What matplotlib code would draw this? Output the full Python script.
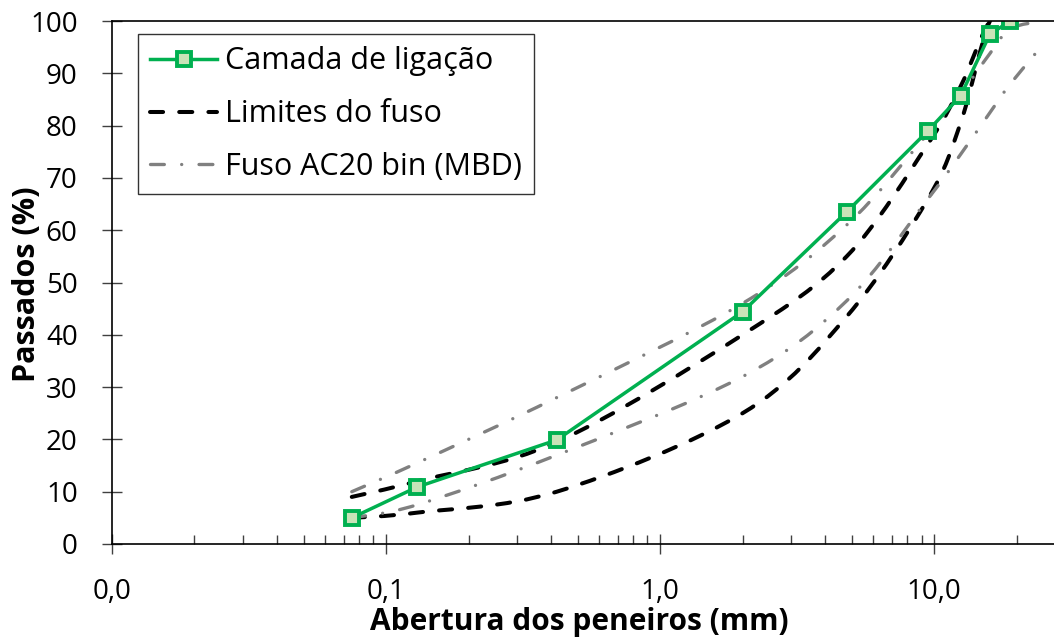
import numpy as np
import matplotlib
matplotlib.use("Agg")
import matplotlib.pyplot as plt
from matplotlib.path import Path
from matplotlib.patches import PathPatch
from matplotlib.lines import Line2D
from matplotlib.ticker import FixedLocator, FixedFormatter, LogLocator, NullFormatter

plt.rcParams['font.family'] = ['Open Sans', 'DejaVu Sans']

# aberturas das peneiras (mm)
peneiras = [0.075, 0.13, 0.42, 2.0, 4.8, 9.5, 12.5, 16.0, 19.0]
peneiras_mbd = [0.075, 0.13, 0.42, 2.0, 4.8, 9.5, 12.5, 16.0, 19.0, 25.0]

camada = [5.0, 10.9, 19.9, 44.4, 63.5, 79.0, 85.7, 97.5, 100.0]
lim_sup = [9.0, 12.0, 19.5, 40.0, 55.0, 76.5, 87.5, 100.0, 100.0]
lim_inf = [5.0, 6.0, 10.0, 25.0, 43.5, 66.0, 80.5, 100.0, 100.0]
mbd_sup = [10.0, 15.5, 28.0, 46.0, 61.0, 78.5, 86.0, 93.8, 98.5, 100.0]
mbd_inf = [5.0, 7.5, 17.0, 32.0, 46.5, 66.0, 74.5, 82.5, 88.0, 95.5]

xticks = [0.01, 0.1, 1.0, 10.0]
xlabels = ['0,0', '0,1', '1,0', '10,0']
yticks = list(range(0, 101, 10))


def curva_suave(xs, ys):
    # linha suavizada (estilo Excel): bezier cubica em (log x, y)
    u = np.log10(xs)
    p = np.column_stack([u, ys])
    verts = [p[0]]
    codes = [Path.MOVETO]
    n = len(p)
    for i in range(n - 1):
        a = p[i - 1] if i > 0 else p[i]
        d = p[i + 2] if i + 2 < n else p[i + 1]
        c1 = p[i] + (p[i + 1] - a) / 6
        c2 = p[i + 1] - (d - p[i]) / 6
        verts += [c1, c2, p[i + 1]]
        codes += [Path.CURVE4] * 3
    verts = np.array(verts)
    verts[:, 0] = 10 ** verts[:, 0]
    return Path(verts, codes)


fig = plt.figure(figsize=(10.54, 6.37), dpi=100)
ax = fig.add_axes([112 / 1054, 1 - 544 / 637, 942 / 1054, 523 / 637])
ax.set_xscale('log')

verde = '#00B050'
ax.plot(peneiras, camada, color=verde, lw=2.5, marker='s', markersize=10.5,
        markerfacecolor='#C9E3B8', markeredgecolor=verde, markeredgewidth=2.8,
        label='Camada de ligação')

tr_fuso = (3.25, 4.0)
tr_mbd = (4.15, 5.2, 0.01, 5.2)
kw_fuso = dict(color='black', lw=2.9, dash_capstyle='round', dashes=tr_fuso)
kw_mbd = dict(color='#808080', lw=2.4, dash_capstyle='round', dashes=tr_mbd)

for ys in [lim_sup, lim_inf]:
    pp = PathPatch(curva_suave(peneiras, ys), fill=False, edgecolor='black', lw=2.9,
                   linestyle=(0, tr_fuso), capstyle='round')
    ax.add_patch(pp)
for ys in [mbd_sup, mbd_inf]:
    pp = PathPatch(curva_suave(peneiras_mbd, ys), fill=False, edgecolor='#808080', lw=2.4,
                   linestyle=(0, tr_mbd), capstyle='round')
    ax.add_patch(pp)

ax.set_xlim(0.01, 27.4)
ax.set_ylim(0, 100)
ax.xaxis.set_major_locator(FixedLocator(xticks))
ax.xaxis.set_major_formatter(FixedFormatter(xlabels))
ax.xaxis.set_minor_locator(LogLocator(base=10, subs=np.arange(2, 10)))
ax.xaxis.set_minor_formatter(NullFormatter())
ax.set_yticks(yticks)

ax.tick_params(which='major', direction='inout', length=14.4, width=1.0,
               labelsize=20, pad=17.5, color='#404040')
ax.tick_params(axis='x', which='minor', direction='in', length=6.5, width=1.0, color='#404040')
ax.spines['right'].set_visible(False)
for s in ['left', 'bottom', 'top']:
    ax.spines[s].set_linewidth(1.2)

ax.set_xlabel('Abertura dos peneiros (mm)', fontsize=21.5, fontweight='bold')
ax.xaxis.set_label_coords(0.496, -0.121)
ax.set_ylabel('Passados (%)', fontsize=22, fontweight='bold')
ax.yaxis.set_label_coords(-0.074, 0.497)

handles = [ax.get_lines()[0],
           Line2D([], [], label='Limites do fuso', **kw_fuso),
           Line2D([], [], label='Fuso AC20 bin (MBD)', **kw_mbd)]
leg = ax.legend(handles=handles, loc='upper left', bbox_to_anchor=(0.0276, 0.975),
                borderaxespad=0, fontsize=22, frameon=True, fancybox=False,
                edgecolor='black', handlelength=2.2, handletextpad=0.25,
                labelspacing=0.75, borderpad=0.4)
leg.get_frame().set_linewidth(1.0)

fig.savefig('out.png', dpi=100)
